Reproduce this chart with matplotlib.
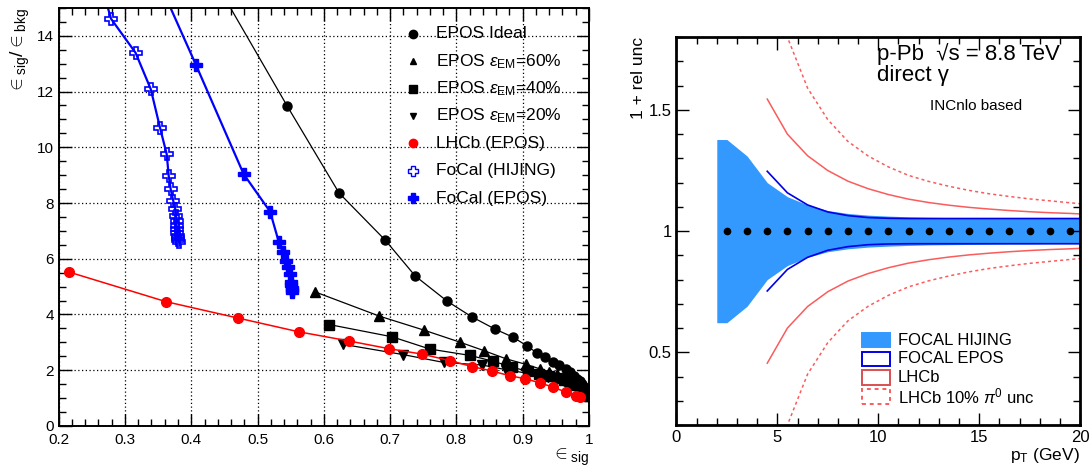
import numpy as np
import matplotlib
matplotlib.use("Agg")
import matplotlib.pyplot as plt
from matplotlib.ticker import MultipleLocator
from matplotlib.patches import Rectangle

plt.rcParams['font.family'] = ['Liberation Sans', 'DejaVu Sans']
plt.rcParams['mathtext.fontset'] = 'custom'
plt.rcParams['mathtext.rm'] = 'Liberation Sans'
plt.rcParams['mathtext.it'] = 'Liberation Sans:italic'

# ---- left panel: signal efficiency vs S/B ratio ----
epos_ideal_x = [0.43, 0.545, 0.623, 0.693, 0.738, 0.786, 0.823, 0.858, 0.886, 0.906, 0.921, 0.934,
                0.946, 0.955, 0.965, 0.972, 0.977, 0.982, 0.986, 0.989, 0.992, 0.995, 0.997, 0.999, 1.0]
epos_ideal_y = [16.2, 11.47, 8.36, 6.66, 5.38, 4.48, 3.92, 3.48, 3.18, 2.88, 2.63, 2.47,
                2.29, 2.19, 2.05, 1.92, 1.81, 1.70, 1.60, 1.50, 1.40, 1.30, 1.22, 1.14, 1.08]

epos60_x = [0.587, 0.684, 0.751, 0.805, 0.842, 0.875, 0.905, 0.926, 0.94, 0.952, 0.962, 0.97,
            0.978, 0.985, 0.99, 0.995, 0.998, 1.0]
epos60_y = [4.81, 3.94, 3.44, 3.01, 2.70, 2.41, 2.21, 2.05, 1.95, 1.86, 1.78, 1.70,
            1.60, 1.50, 1.40, 1.28, 1.17, 1.08]

epos40_x = [0.608, 0.703, 0.760, 0.821, 0.856, 0.884, 0.908, 0.925, 0.94, 0.952, 0.963, 0.972,
            0.98, 0.987, 0.993, 0.997, 1.0]
epos40_y = [3.64, 3.20, 2.76, 2.53, 2.32, 2.11, 1.96, 1.87, 1.79, 1.72, 1.64, 1.55,
            1.46, 1.36, 1.26, 1.16, 1.07]

epos20_x = [0.629, 0.720, 0.781, 0.838, 0.875, 0.905, 0.922, 0.938, 0.951, 0.962, 0.972, 0.98,
            0.987, 0.993, 0.997, 1.0]
epos20_y = [2.93, 2.56, 2.28, 2.19, 2.02, 1.90, 1.82, 1.75, 1.68, 1.60, 1.52, 1.43,
            1.34, 1.24, 1.15, 1.06]

lhcb_x = [0.216, 0.362, 0.471, 0.562, 0.638, 0.699, 0.748, 0.791, 0.824, 0.854, 0.881, 0.903,
          0.926, 0.946, 0.966, 0.980, 0.986]
lhcb_y = [5.52, 4.46, 3.87, 3.38, 3.05, 2.77, 2.58, 2.34, 2.13, 1.97, 1.80, 1.70,
          1.55, 1.39, 1.21, 1.09, 1.03]

focal_hijing_x = [0.262, 0.279, 0.316, 0.339, 0.353, 0.363, 0.366, 0.369, 0.373, 0.376, 0.377,
                  0.378, 0.378, 0.379, 0.379, 0.38, 0.38, 0.38, 0.381]
focal_hijing_y = [16.0, 14.61, 13.39, 12.08, 10.69, 9.75, 8.97, 8.49, 8.06, 7.77, 7.55,
                  7.35, 7.18, 7.05, 6.92, 6.82, 6.74, 6.66, 6.60]

focal_epos_x = [0.35, 0.407, 0.479, 0.519, 0.532, 0.538, 0.543, 0.546, 0.549, 0.551, 0.551,
                0.552, 0.552, 0.552]
focal_epos_y = [16.0, 12.96, 9.04, 7.69, 6.61, 6.25, 5.91, 5.71, 5.45, 5.17, 5.05,
                4.95, 4.87, 4.80]

# ---- right panel: relative uncertainty vs pT ----
hijing_pt = [2.0, 2.5, 3.5, 4.5, 5.5, 6.5, 7.5, 8.5, 9.5, 10.5, 11.5, 12.5, 13.5, 14.5,
             15.5, 16.5, 17.5, 18.5, 19.5, 20.0]
hijing_unc = [0.378, 0.378, 0.31, 0.20, 0.142, 0.108, 0.085, 0.073, 0.066, 0.062, 0.059,
              0.057, 0.056, 0.055, 0.054, 0.053, 0.053, 0.052, 0.052, 0.052]

epos_pt = [4.5, 5.5, 6.5, 7.5, 8.5, 9.5, 10.5, 11.5, 12.5, 13.5, 14.5, 15.5, 16.5, 17.5,
           18.5, 19.5, 20.0]
epos_unc = [0.247, 0.158, 0.108, 0.079, 0.064, 0.056, 0.053, 0.052, 0.052, 0.052, 0.052,
            0.052, 0.052, 0.052, 0.052, 0.052, 0.052]

lhcb_pt = [4.5, 5.5, 6.5, 7.5, 8.5, 9.5, 10.5, 11.5, 12.5, 13.5, 14.5, 15.5, 16.5, 17.5,
           18.5, 19.5, 20.0]
lhcb_unc = [0.545, 0.40, 0.311, 0.25, 0.206, 0.175, 0.151, 0.132, 0.118, 0.107, 0.098,
            0.091, 0.085, 0.080, 0.076, 0.073, 0.071]
lhcb_pi0_unc = [1.15, 0.80, 0.59, 0.46, 0.37, 0.31, 0.265, 0.23, 0.205, 0.185, 0.168,
                0.154, 0.143, 0.133, 0.125, 0.117, 0.113]

center_pt = [2.5, 3.5, 4.5, 5.5, 6.5, 7.5, 8.5, 9.5, 10.5, 11.5, 12.5, 13.5, 14.5, 15.5,
             16.5, 17.5, 18.5, 19.5]
center_val = [1.0] * len(center_pt)

fig = plt.figure(figsize=(10.91, 4.74), dpi=100)
ax1 = fig.add_axes([0.0538, 0.1013, 0.486, 0.882])
ax2 = fig.add_axes([0.620, 0.1034, 0.370, 0.818])


def root_style(ax, lw):
    for s in ax.spines.values():
        s.set_linewidth(lw)
    ax.tick_params(which='both', direction='in', top=True, right=True, labelsize=11, width=1.0)
    ax.tick_params(which='major', length=9)
    ax.tick_params(which='minor', length=5)


# left panel
ax1.plot(epos_ideal_x, epos_ideal_y, color='black', lw=0.9, marker='o', ms=6.5)
ax1.plot(epos60_x, epos60_y, color='black', lw=0.9, marker='^', ms=6.5)
ax1.plot(epos40_x, epos40_y, color='black', lw=0.9, marker='s', ms=6.5)
ax1.plot(epos20_x, epos20_y, color='black', lw=0.9, marker='v', ms=6.5)
ax1.plot(lhcb_x, lhcb_y, color='red', lw=1.1, marker='o', ms=7)
ax1.plot(focal_hijing_x, focal_hijing_y, color='blue', lw=1.6, marker='P', ms=8,
         mfc='none', mec='blue', mew=1.2)
ax1.plot(focal_epos_x, focal_epos_y, color='blue', lw=1.6, marker='P', ms=8)

ax1.set_xlim(0.2, 1.0)
ax1.set_ylim(0, 15)
ax1.xaxis.set_major_locator(MultipleLocator(0.1))
ax1.xaxis.set_minor_locator(MultipleLocator(0.02))
ax1.yaxis.set_major_locator(MultipleLocator(2))
ax1.yaxis.set_minor_locator(MultipleLocator(0.5))
ax1.set_xticks(np.arange(0.2, 1.01, 0.1))
ax1.set_xticklabels(['0.2', '0.3', '0.4', '0.5', '0.6', '0.7', '0.8', '0.9', '1'])
ax1.grid(True, which='major', color='black', linestyle=(0, (1, 2)), lw=0.9)
root_style(ax1, 1.4)
ax1.tick_params(axis='x', pad=5)
ax1.set_ylabel(r'${\in}_{\rm sig}/{\in}_{\rm bkg}$', fontsize=14, loc='top')
ax1.yaxis.set_label_coords(-0.05, 1.0)
ax1.set_xlabel(r'${\in}_{\rm sig}$', fontsize=14, loc='right')
ax1.xaxis.set_label_coords(1.0, -0.05)

legend_left = [
    ('o', 'black', 'black', 'EPOS Ideal', 6),
    ('^', 'black', 'black', r'EPOS $\varepsilon_{\rm EM}$=60%', 5),
    ('s', 'black', 'black', r'EPOS $\varepsilon_{\rm EM}$=40%', 5.5),
    ('v', 'black', 'black', r'EPOS $\varepsilon_{\rm EM}$=20%', 5),
    ('o', 'red', 'red', 'LHCb (EPOS)', 6),
    ('P', 'none', 'blue', 'FoCal (HIJING)', 7),
    ('P', 'blue', 'blue', 'FoCal (EPOS)', 7),
]
for i, (m, fc, ec, lab, ms) in enumerate(legend_left):
    yy = 0.938 - i * 0.0655
    ax1.plot([0.668], [yy], marker=m, mfc=fc, mec=ec, ms=ms, ls='none',
             transform=ax1.transAxes, clip_on=False)
    ax1.text(0.712, yy, lab, transform=ax1.transAxes, fontsize=12.5, va='center', ha='left')

# right panel
h = np.array(hijing_unc)
ax2.fill_between(hijing_pt, 1 - h, 1 + h, color='#3399ff', lw=0)
e = np.array(epos_unc)
ax2.plot(epos_pt, 1 + e, color='#0000e6', lw=1.2)
ax2.plot(epos_pt, 1 - e, color='#0000e6', lw=1.2)
l = np.array(lhcb_unc)
ax2.plot(lhcb_pt, 1 + l, color='#fa5c5c', lw=1.1)
ax2.plot(lhcb_pt, 1 - l, color='#fa5c5c', lw=1.1)
lp = np.array(lhcb_pi0_unc)
ax2.plot(lhcb_pt, 1 + lp, color='#fa5c5c', lw=1.1, ls=(0, (2, 2)))
ax2.plot(lhcb_pt, 1 - lp, color='#fa5c5c', lw=1.1, ls=(0, (2, 2)))
ax2.plot(center_pt, center_val, 'o', color='black', ms=4.5, ls='none')

ax2.set_xlim(0, 20)
ax2.set_ylim(0.2, 1.8)
ax2.xaxis.set_major_locator(MultipleLocator(5))
ax2.xaxis.set_minor_locator(MultipleLocator(1))
ax2.yaxis.set_major_locator(MultipleLocator(0.5))
ax2.yaxis.set_minor_locator(MultipleLocator(0.1))
ax2.set_yticks([0.5, 1.0, 1.5])
ax2.set_yticklabels(['0.5', '1', '1.5'])
root_style(ax2, 2.0)
ax2.tick_params(labelsize=12)
ax2.set_ylabel('1 + rel unc', fontsize=12.5, loc='top')
ax2.yaxis.set_label_coords(-0.075, 1.0)
ax2.set_xlabel(r'p$_{\rm T}$ (GeV)', fontsize=12.5, loc='right')
ax2.xaxis.set_label_coords(1.0, -0.055)

ax2.text(0.498, 0.9415, 'p-Pb  \u221as = 8.8 TeV', transform=ax2.transAxes, fontsize=16,
         va='baseline', ha='left')
ax2.text(0.498, 0.887, 'direct \u03b3', transform=ax2.transAxes, fontsize=16,
         va='baseline', ha='left')
ax2.text(0.627, 0.8125, 'INCnlo based', transform=ax2.transAxes, fontsize=11,
         va='baseline', ha='left')

legend_right = [
    ('#3399ff', '#3399ff', 'solid', 'FOCAL HIJING'),
    ('white', '#0000e6', 'solid', 'FOCAL EPOS'),
    ('white', '#d85050', 'solid', 'LHCb'),
    ('white', '#fa5c5c', (0, (2, 2)), r'LHCb 10% $\pi^{0}$ unc'),
]
for i, (fc, ec, ls, lab) in enumerate(legend_right):
    yc = 0.219 - i * 0.0485
    ax2.add_patch(Rectangle((0.459, yc - 0.019), 0.069, 0.038, transform=ax2.transAxes,
                            facecolor=fc, edgecolor=ec, lw=1.4, ls=ls))
    ax2.text(0.549, yc, lab, transform=ax2.transAxes, fontsize=12, va='center', ha='left')

fig.savefig('out.png', dpi=100)
